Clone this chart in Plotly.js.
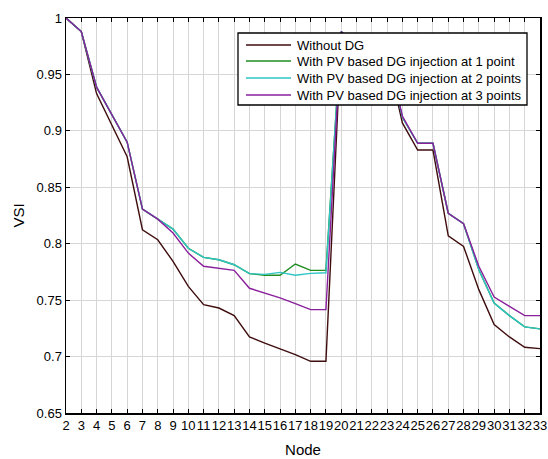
<!DOCTYPE html>
<html>
<head>
<meta charset="utf-8">
<script src="https://cdn.plot.ly/plotly-3.0.1.min.js"></script>
<style>html,body{margin:0;padding:0;background:#fff;}#chart{width:548px;height:459px;}</style>
</head>
<body>
<div id="chart"></div>
<script>
const nodes = [2,3,4,5,6,7,8,9,10,11,12,13,14,15,16,17,18,19,20,21,22,23,24,25,26,27,28,29,30,31,32,33];

const withoutDG = [1.0,0.988,0.933,0.905,0.877,0.8124,0.8035,0.7843,0.7622,0.746,0.743,0.7363,0.7174,0.712,0.707,0.7018,0.6958,0.6958,
  0.985,0.972,0.968,0.967,0.907,0.883,0.883,0.807,0.7976,0.7593,0.7283,0.7174,0.7082,0.707];

const pv1 = [1.0,0.988,0.9387,0.914,0.890,0.8307,0.8218,0.813,0.796,0.7879,0.7858,0.7814,0.7735,0.772,0.772,0.782,0.7764,0.7764,
  0.988,0.975,0.972,0.971,0.912,0.889,0.889,0.827,0.8177,0.777,0.7475,0.7363,0.7263,0.7245];

const pv2 = [1.0,0.988,0.9387,0.914,0.890,0.8307,0.8218,0.813,0.796,0.7879,0.7858,0.7814,0.7735,0.7728,0.7746,0.772,0.7737,0.7743,
  0.988,0.975,0.972,0.971,0.912,0.889,0.889,0.827,0.8177,0.777,0.7475,0.7363,0.7263,0.7245];

const pv3 = [1.0,0.988,0.9387,0.914,0.890,0.8307,0.8218,0.8095,0.7917,0.780,0.7785,0.7764,0.7605,0.7564,0.752,0.7469,0.7416,0.7416,
  0.988,0.975,0.972,0.971,0.913,0.889,0.889,0.827,0.8177,0.780,0.7528,0.7445,0.7363,0.7363];

const seriesNames = [
  "Without DG",
  "With PV based DG injection at 1 point",
  "With PV based DG injection at 2 points",
  "With PV based DG injection at 3 points"
];
const seriesColors = ["#3f0d0d", "#1e8c1e", "#2ec4c4", "#8a1f9c"];
const seriesData = [withoutDG, pv1, pv2, pv3];

const traces = seriesData.map((ys, i) => ({
  x: nodes, y: ys, type: "scatter", mode: "lines",
  name: seriesNames[i],
  line: {color: seriesColors[i], width: 1.4}
}));

const FAMILY = "Liberation Sans, Arial, sans-serif";
const font = {family: FAMILY, size: 13, color: "#000"};

// Plot area in pixels (for the hand-placed legend box, MATLAB style)
const W = 548, H = 459, ML = 66, MR = 8, MT = 18, MB = 46;
const PW = W - ML - MR, PH = H - MT - MB;
const px = x => (x - ML) / PW;
const py = y => (H - MB - y) / PH;

const legBox = {x0: 238, x1: 527, y0: 33, y1: 105};
const legRowsY = [45, 61, 78, 95];
const legLineX = [246, 291];
const legTextX = 295;

const shapes = [{
  type: "rect", xref: "paper", yref: "paper", layer: "above",
  x0: px(legBox.x0), x1: px(legBox.x1), y0: py(legBox.y1), y1: py(legBox.y0),
  fillcolor: "#fff", line: {color: "#000", width: 1.3}
}];
const annotations = [];
seriesNames.forEach((name, i) => {
  shapes.push({
    type: "line", xref: "paper", yref: "paper", layer: "above",
    x0: px(legLineX[0]), x1: px(legLineX[1]), y0: py(legRowsY[i]), y1: py(legRowsY[i]),
    line: {color: seriesColors[i], width: 1.4}
  });
  annotations.push({
    xref: "paper", yref: "paper", x: px(legTextX), y: py(legRowsY[i]),
    xanchor: "left", yanchor: "middle", showarrow: false,
    text: name, font: {family: FAMILY, size: 13, color: "#000"}
  });
});

const layout = {
  width: W, height: H,
  margin: {l: ML, r: MR, t: MT, b: MB},
  paper_bgcolor: "#fff", plot_bgcolor: "#fff",
  font: font,
  showlegend: false,
  shapes: shapes,
  annotations: annotations,
  xaxis: {
    range: [2, 33], tickmode: "array", tickvals: nodes, ticktext: nodes.map(String),
    tickangle: 0,
    showgrid: true, gridcolor: "#d6d6d6", gridwidth: 1,
    zeroline: false,
    showline: true, linecolor: "#000", linewidth: 1.5, mirror: "ticks",
    ticks: "inside", ticklen: 4, tickcolor: "#000", tickwidth: 1,
    tickfont: font,
    title: {text: "Node", font: {family: FAMILY, size: 15, color: "#000"}, standoff: 12}
  },
  yaxis: {
    range: [0.65, 1], dtick: 0.05, tick0: 0.65,
    showgrid: true, gridcolor: "#d6d6d6", gridwidth: 1,
    zeroline: false,
    showline: true, linecolor: "#000", linewidth: 1.5, mirror: "ticks",
    ticks: "inside", ticklen: 4, tickcolor: "#000", tickwidth: 1,
    tickfont: font,
    title: {text: "VSI", font: {family: FAMILY, size: 15, color: "#000"}, standoff: 8}
  }
};

Plotly.newPlot("chart", traces, layout, {staticPlot: true, displayModeBar: false});
</script>
</body>
</html>
